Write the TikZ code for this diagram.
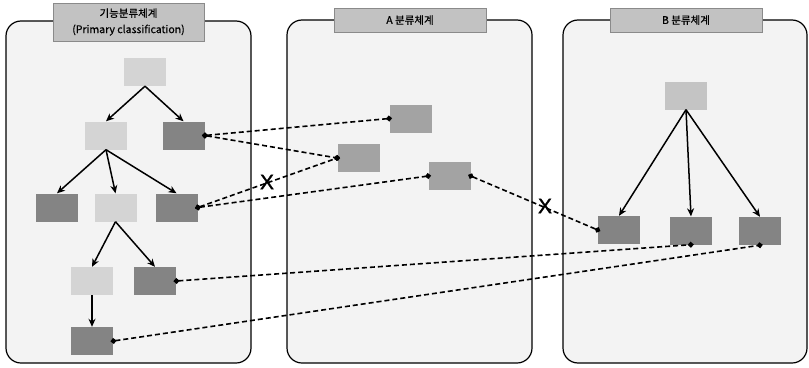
\documentclass[tikz,border=0pt]{standalone}
\usepackage{fontspec}
\setmainfont{Noto Sans CJK KR}
\newfontfamily\headfont[FakeBold=0.6]{Noto Sans CJK KR}
\newfontfamily\crossfont[FakeBold=1.2]{Liberation Sans}
\usetikzlibrary{arrows.meta}

\definecolor{panelfill}{HTML}{F3F3F3}
\definecolor{titlefill}{HTML}{C2C2C2}
\definecolor{titleline}{HTML}{8A8A8A}
\definecolor{lightbox}{HTML}{D4D4D4}
\definecolor{darkbox}{HTML}{848484}
\definecolor{midbox}{HTML}{A3A3A3}
\definecolor{rootbox}{HTML}{C4C4C4}

\tikzset{
  panel/.style={draw=black, line width=1.2pt, fill=panelfill, rounded corners=15pt},
  titlebox/.style={draw=titleline, line width=0.9pt, fill=titlefill, inner sep=0pt,
    align=center, font=\headfont\fontsize{10.5}{16}\selectfont},
  cls/.style={minimum width=42pt, minimum height=28pt, inner sep=0pt, draw=none},
  lightcls/.style={cls, fill=lightbox},
  darkcls/.style={cls, fill=darkbox},
  midcls/.style={cls, fill=midbox},
  rootcls/.style={cls, fill=rootbox},
  tree/.style={line width=1.5pt, -{Stealth[length=8pt,width=7pt]}},
  mapping/.style={line width=1.6pt, dash pattern=on 5pt off 3pt,
    {Circle[length=5.5pt]}-{Circle[length=5.5pt]},
    shorten <=-2.5pt, shorten >=-2.5pt},
  cross/.style={inner sep=0pt, font=\fontsize{21}{21}\selectfont\crossfont}
}

\begin{document}
\begin{tikzpicture}[x=1pt, y=-1pt]
\useasboundingbox (0,0) rectangle (809,367);

% three classification panels
\draw[panel] (6,21) rectangle (251,363);
\draw[panel] (287,20) rectangle (532,363);
\draw[panel] (563,20) rectangle (807,363);

% panel headings
\node[titlebox, minimum width=151pt, minimum height=38pt] (t1) at (128.5,22)
  {기능분류체계\\(Primary classification)};
\node[titlebox, minimum width=152pt, minimum height=24pt] (t2) at (410,20) {A 분류체계};
\node[titlebox, minimum width=152pt, minimum height=24pt] (t3) at (686,20) {B 분류체계};

% primary classification tree
\node[lightcls] (p0) at (145,72) {};
\node[lightcls] (p1) at (106,135.5) {};
\node[darkcls]  (p2) at (183.5,135.5) {};
\node[darkcls]  (p3) at (57,207.5) {};
\node[lightcls] (p4) at (115.5,207.5) {};
\node[darkcls]  (p5) at (176.5,207.5) {};
\node[lightcls] (p6) at (92,281) {};
\node[darkcls]  (p7) at (155,281) {};
\node[darkcls]  (p8) at (92,341) {};

\draw[tree] (p0.south) -- (p1.north);
\draw[tree] (p0.south) -- (p2.north);
\draw[tree] (p1.south) -- (p3.north);
\draw[tree] (p1.south) -- (p4.north);
\draw[tree] (p1.south) -- (p5.north);
\draw[tree] (p4.south) -- (p6.north);
\draw[tree] (p4.south) -- (p7.north);
\draw[tree] (p6.south) -- (p8.north);

% A classification
\node[midcls] (a1) at (410.5,118.5) {};
\node[midcls] (a2) at (358.5,158) {};
\node[midcls] (a3) at (449.5,176) {};

% B classification
\node[rootcls] (b0) at (686,95.5) {};
\node[darkcls] (b1) at (619,230) {};
\node[darkcls] (b2) at (691,230.5) {};
\node[darkcls] (b3) at (760,231) {};

\draw[tree] (b0.south) -- (b1.north);
\draw[tree] (b0.south) -- (b2.north);
\draw[tree] (b0.south) -- (b3.north);

% mappings between classifications
\draw[mapping] (p2.east) -- (a1.west);
\draw[mapping] (p2.east) -- (a2.west);
\draw[mapping] (p5.east) -- (a2.west);
\draw[mapping] (p5.east) -- (a3.west);
\draw[mapping] (a3.east) -- (b1.west);
\draw[mapping] (p7.east) -- (b2.south);
\draw[mapping] (p8.east) -- (b3.south);

% rejected mappings
\node[cross] (x1) at (267,182) {X};
\node[cross] (x2) at (545,206) {X};
\end{tikzpicture}
\end{document}
